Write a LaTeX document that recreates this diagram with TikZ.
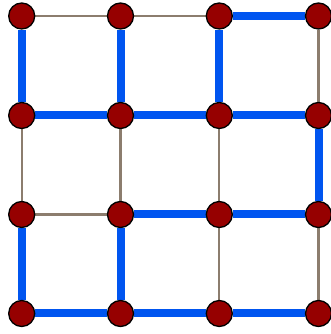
\documentclass[tikz,border=0pt]{standalone}
\usetikzlibrary{backgrounds}
\definecolor{nodered}{RGB}{150,0,0}
\definecolor{edgeblue}{RGB}{0,85,240}
\definecolor{edgegray}{RGB}{140,125,110}
\begin{document}
\begin{tikzpicture}[x=1pt,y=1pt,
  vtx/.style={circle,fill=nodered,draw=black,line width=1.3pt,minimum size=26pt,inner sep=0pt},
  grayedge/.style={draw=edgegray,line width=2.2pt},
  blueedge/.style={draw=edgeblue,line width=8pt}]
\useasboundingbox (0,0) rectangle (331,334);
% vertices
\foreach \c/\x in {0/21.7,1/120.5,2/219.3,3/318.5}{
  \foreach \r/\y in {0/318,1/218.5,2/119.5,3/20.5}{
    \node[vtx] (n\c\r) at (\x,\y) {};
  }
}
\begin{scope}[on background layer]
\fill[white] (0,0) rectangle (331,334);
\draw[grayedge] (n00) -- (n10);
\draw[grayedge] (n10) -- (n20);
\draw[blueedge] (n20) -- (n30);
\draw[blueedge] (n00) -- (n01);
\draw[blueedge] (n10) -- (n11);
\draw[blueedge] (n20) -- (n21);
\draw[grayedge] (n30) -- (n31);
\draw[blueedge] (n01) -- (n11);
\draw[blueedge] (n11) -- (n21);
\draw[blueedge] (n21) -- (n31);
\draw[grayedge] (n01) -- (n02);
\draw[grayedge] (n11) -- (n12);
\draw[grayedge] (n21) -- (n22);
\draw[blueedge] (n31) -- (n32);
\draw[grayedge] (n02) -- (n12);
\draw[blueedge] (n12) -- (n22);
\draw[blueedge] (n22) -- (n32);
\draw[blueedge] (n02) -- (n03);
\draw[blueedge] (n12) -- (n13);
\draw[grayedge] (n22) -- (n23);
\draw[grayedge] (n32) -- (n33);
\draw[blueedge] (n03) -- (n13);
\draw[blueedge] (n13) -- (n23);
\draw[blueedge] (n23) -- (n33);
\end{scope}
\end{tikzpicture}
\end{document}
